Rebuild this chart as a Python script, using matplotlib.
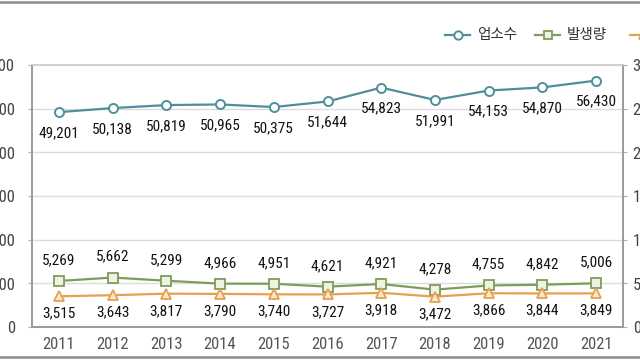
import matplotlib
matplotlib.use("Agg")
import matplotlib.pyplot as plt
from matplotlib.lines import Line2D
from matplotlib.ticker import FuncFormatter, MultipleLocator
from matplotlib import font_manager as fm

years = ["2011", "2012", "2013", "2014", "2015", "2016", "2017", "2018", "2019", "2020", "2021"]
shops = [49201, 50138, 50819, 50965, 50375, 51644, 54823, 51991, 54153, 54870, 56430]
generation = [5269, 5662, 5299, 4966, 4951, 4621, 4921, 4278, 4755, 4842, 5006]
discharge = [3515, 3643, 3817, 3790, 3740, 3727, 3918, 3472, 3866, 3844, 3849]
series_names = ["업소수", "발생량", "배출량"]


def pick_condensed():
    entries = fm.fontManager.ttflist
    prefs = ["Liberation Sans Narrow", "Roboto Condensed", "Open Sans Condensed",
             "Noto Sans Condensed", "DejaVu Sans Condensed"]
    for p in prefs:
        for f in entries:
            if f.name == p and f.style == "normal" and str(f.weight) in ("400", "normal", "regular"):
                return f.fname
    for f in entries:
        st = str(f.stretch).lower()
        if ("condensed" in st or "narrow" in st) and "semi" not in st and "extra" not in st \
                and "ultra" not in st and f.style == "normal" and \
                any(n in f.name for n in ("DejaVu Sans", "Noto Sans", "Roboto", "Open Sans", "Liberation Sans")) \
                and "Mono" not in f.name and "CJK" not in f.name and str(f.weight) in ("400", "normal", "regular"):
            return f.fname
    return None


cond = pick_condensed()
if cond:
    NUMP = dict(fontproperties=fm.FontProperties(fname=cond))
    NUM_SIZE = 11
    TICK_SIZE = 12
else:
    NUMP = dict(family=["Liberation Sans", "DejaVu Sans"])
    NUM_SIZE = 10
    TICK_SIZE = 11

KR_FONT = ["Noto Sans CJK KR", "DejaVu Sans"]

c_teal = "#4f8f9b"
c_green = "#7f9c5c"
c_orange = "#e6a04e"

fig = plt.figure(figsize=(6.4, 3.6), dpi=100)
ax = fig.add_axes([32/640, 33/360, (623-32)/640, (327-65)/360])
ax2 = ax.twinx()

x = list(range(len(years)))

st_shop = dict(color=c_teal, lw=1.6, marker="o", ms=6.5, mfc="white", mec=c_teal, mew=1.4)
st_gen = dict(color=c_green, lw=1.6, marker="s", ms=6.5, mfc="#eef3e4", mec=c_green, mew=1.3)
st_dis = dict(color=c_orange, lw=1.6, marker="^", ms=6.5, mfc="#fbe9cf", mec=c_orange, mew=1.3)

ax.plot(x, shops, zorder=3, **st_shop)
ax2.plot(x, generation, zorder=3, **st_gen)
ax2.plot(x, discharge, zorder=3, **st_dis)

ax.set_xlim(-0.5, len(years) - 0.5)
ax.set_ylim(0, 60000)
ax2.set_ylim(0, 30000)
ax.yaxis.set_major_locator(MultipleLocator(10000))
ax2.yaxis.set_major_locator(MultipleLocator(5000))
fmt = FuncFormatter(lambda v, p: f"{int(v):,}")
ax.yaxis.set_major_formatter(fmt)
ax2.yaxis.set_major_formatter(fmt)

ax.set_xticks(x)
ax.set_xticklabels(years)
ax.grid(axis="y", color="#dcdcdc", lw=1.0)
ax.set_axisbelow(True)

for a in (ax, ax2):
    for s in a.spines.values():
        s.set_color("#9a9a9a")
        s.set_linewidth(1.2)
    a.spines["top"].set_color("#d0d0d0")
ax.tick_params(axis="x", length=0, pad=7, labelcolor="#555555")
ax.tick_params(axis="y", length=3, color="#b0b0b0", pad=9, labelcolor="#444444")
ax2.tick_params(axis="y", length=3, color="#b0b0b0", pad=4, labelcolor="#444444")
for lab in ax.get_xticklabels() + ax.get_yticklabels() + ax2.get_yticklabels():
    if cond:
        lab.set_fontproperties(fm.FontProperties(fname=cond))
    else:
        lab.set_family(NUMP["family"])
    lab.set_fontsize(TICK_SIZE)

for xi, v in zip(x, shops):
    ax.annotate(f"{v:,}", (xi, v), xytext=(0, -15), textcoords="offset points",
                ha="center", va="center", fontsize=NUM_SIZE, color="#111111", **NUMP)
for xi, v in zip(x, generation):
    ax2.annotate(f"{v:,}", (xi, v), xytext=(0, 15), textcoords="offset points",
                 ha="center", va="center", fontsize=NUM_SIZE, color="#111111", **NUMP)
for xi, v in zip(x, discharge):
    ax2.annotate(f"{v:,}", (xi, v), xytext=(0, -12.5), textcoords="offset points",
                 ha="center", va="center", fontsize=NUM_SIZE, color="#111111", **NUMP)

# legend drawn at fixed pixel positions (third item runs off the right edge)
leg_y = 1 - 35/360
for x0, name, st in zip([445, 535, 630], series_names, [st_shop, st_gen, st_dis]):
    fig.add_artist(Line2D([x0/640, (x0 + 25)/640], [leg_y, leg_y], color=st["color"], lw=1.6,
                          transform=fig.transFigure))
    mst = {k: v for k, v in st.items() if k not in ("lw",)}
    mst["ms"] = 6
    fig.add_artist(Line2D([(x0 + 12.5)/640], [leg_y], lw=0, transform=fig.transFigure, **mst))
    fig.text((x0 + 32)/640, leg_y, name, ha="left", va="center", fontsize=10.5,
             family=KR_FONT, color="#333333")

fig.add_artist(Line2D([0, 1], [1 - 2/360, 1 - 2/360], color="#8c8c8c", lw=1.8, transform=fig.transFigure))
fig.add_artist(Line2D([0, 1], [1 - 357/360, 1 - 357/360], color="#8c8c8c", lw=1.8, transform=fig.transFigure))

fig.savefig("out.png", dpi=100)
